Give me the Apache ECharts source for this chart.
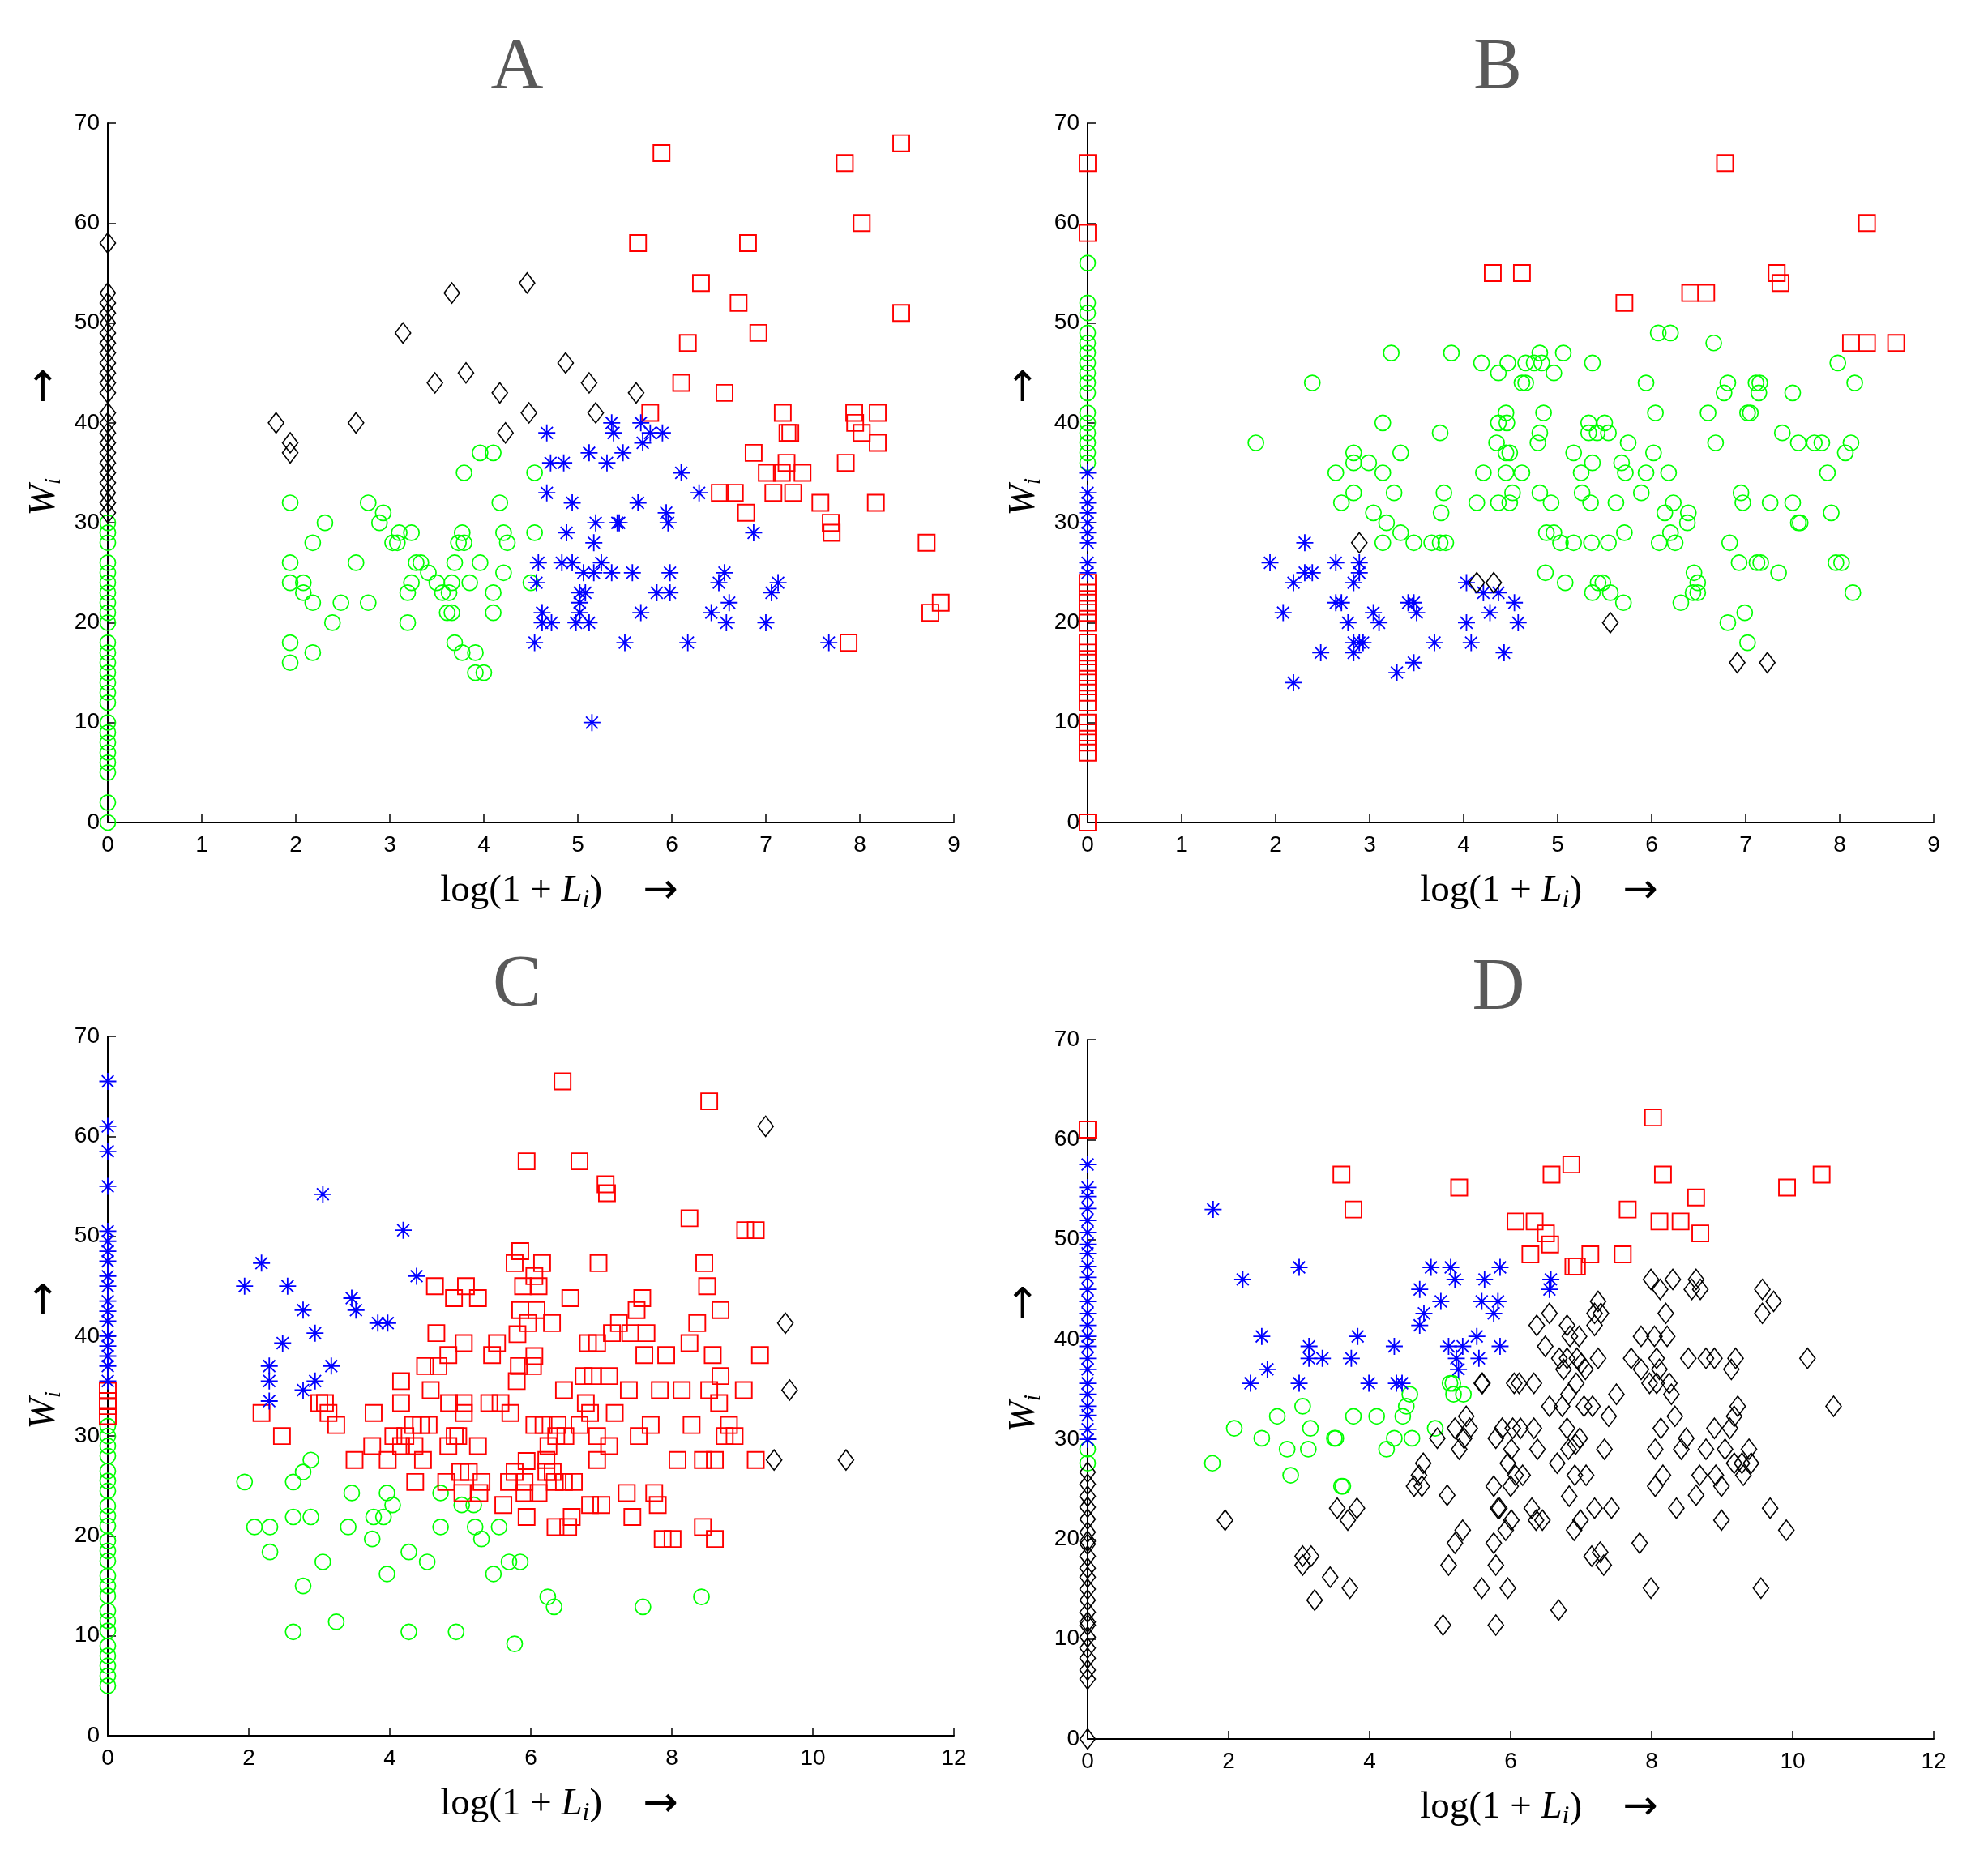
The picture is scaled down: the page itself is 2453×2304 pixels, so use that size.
<!DOCTYPE html>
<html lang="en">
<head>
<meta charset="UTF-8">
<title>W vs log(1+L) scatter</title>
<script src="https://cdn.jsdelivr.net/npm/echarts@6/dist/echarts.min.js"></script>
<style>
  html, body { margin: 0; padding: 0; background: #fff; }
  #cc { width: 2453px; height: 2304px; }
</style>
</head>
<body>
<div id="cc"></div>
<script>
// ---- panel A ----
var aBlackAxisY = [58,53,52,51,50,49,48,47,46,45,44,43,41,40,39,38,37,36,35,34,33,32,31];
var aGreenAxisY = [0,2,5,6,7,8,9,10,12,13,14,15,16,17,18,20,21,22,23,24,25,26,28,29,30];
var aBlack = [[1.79,40],[1.94,38],[1.94,37],[2.64,40],[3.14,49],[3.48,44],[3.66,53],[3.81,45],[4.17,43],[4.23,39],[4.46,54],[4.48,41],[4.87,46],[5.12,44],[5.19,41],[5.62,43]];
var aGreen = [[1.94,32],[1.94,26],[1.94,24],[1.94,18],[1.94,16],[2.08,24],[2.08,23],[2.18,28],[2.18,22],[2.18,17],[2.31,30],[2.39,20],[2.48,22],[2.64,26],[2.77,32],[2.77,22],[2.89,30],[2.93,31],[3.03,28],[3.08,28],[3.1,29],[3.23,29],[3.19,23],[3.23,24],[3.19,20],[3.28,26],[3.33,26],[3.41,25],[3.5,24],[3.56,23],[3.63,23],[3.66,24],[3.61,21],[3.66,21],[3.69,26],[3.77,29],[3.73,28],[3.79,28],[3.79,35],[3.69,18],[3.77,17],[3.85,24],[3.91,17],[3.91,15],[4.0,15],[3.96,37],[3.96,26],[4.1,37],[4.1,23],[4.1,21],[4.17,32],[4.21,29],[4.25,28],[4.21,25],[4.54,35],[4.54,29],[4.5,24]];
var aBlue = [[4.67,39],[4.71,36],[4.85,36],[4.67,33],[4.94,32],[4.88,29],[4.58,26],[4.83,26],[4.94,26],[4.56,24],[4.62,21],[4.62,20],[4.72,20],[4.54,18],[5.36,40],[5.38,39],[5.67,40],[5.77,39],[5.9,39],[5.69,38],[5.12,37],[5.48,37],[5.31,36],[5.64,32],[5.19,30],[5.42,30],[5.44,30],[5.17,28],[5.25,26],[5.06,25],[5.17,25],[5.36,25],[5.58,25],[5.98,25],[5.02,23],[5.08,23],[5.02,22],[5.02,21],[4.98,20],[5.12,20],[5.67,21],[5.84,23],[5.98,23],[5.94,31],[5.96,30],[6.1,35],[6.29,33],[5.5,18],[6.17,18],[5.15,10],[6.42,21],[6.5,24],[6.56,25],[6.58,20],[6.61,22],[6.87,29],[7.0,20],[7.06,23],[7.13,24],[7.67,18]];
var aRed = [[5.89,67],[5.64,58],[6.81,58],[6.31,54],[6.71,52],[6.92,49],[6.17,48],[6.1,44],[6.56,43],[5.77,41],[7.18,41],[7.23,39],[7.26,39],[6.87,37],[7.94,41],[7.95,40],[8.02,39],[8.19,41],[8.19,38],[7.85,36],[7.22,36],[7.01,35],[7.17,35],[7.39,35],[6.51,33],[6.67,33],[7.08,33],[7.29,33],[7.58,32],[8.17,32],[6.79,31],[7.69,30],[7.7,29],[7.84,66],[8.44,68],[8.02,60],[8.44,51],[8.71,28],[8.86,22],[8.75,21],[7.88,18]];

// ---- panel B ----
var bRedAxisY = [66,59,24,23,22,21,20,18,17,16,15,14,13,12,10,9,8,7,0];
var bGreenAxisY = [56,52,51,49,48,47,46,45,44,43,41,40,39,38,37,36];
var bBlueAxisY = [35,33,32,31,30,29,28,26,25];
var bBlue = [[1.94,26],[2.31,28],[2.31,25],[2.39,25],[2.19,24],[2.08,21],[2.19,14],[2.48,17],[2.64,26],[2.64,22],[2.7,22],[2.77,20],[2.83,24],[2.89,26],[2.89,25],[2.83,18],[2.89,18],[2.93,18],[2.83,17],[3.04,21],[3.1,20],[3.29,15],[3.41,22],[3.47,22],[3.5,21],[3.47,16],[3.69,18],[4.03,24],[4.03,20],[4.08,18],[4.21,23],[4.28,21],[4.37,23],[4.43,17],[4.54,22],[4.58,20]];
var bBlack = [[2.89,28],[4.14,24],[4.32,24],[5.56,20],[6.91,16],[7.23,16]];
var bRed = [[4.31,55],[4.62,55],[6.78,66],[8.29,60],[5.71,52],[6.41,53],[6.58,53],[7.33,55],[7.37,54],[8.12,48],[8.29,48],[8.6,48]];
var bGreen = [[1.79,38],[2.39,44],[3.23,47],[3.87,47],[3.14,40],[3.75,39],[2.83,37],[2.83,36],[2.99,36],[3.33,37],[2.64,35],[3.14,35],[2.83,33],[2.7,32],[3.26,33],[3.79,33],[3.04,31],[3.76,31],[3.18,30],[3.33,29],[3.14,28],[3.47,28],[3.66,28],[3.75,28],[3.81,28],[4.19,46],[4.37,45],[4.47,46],[4.66,46],[4.62,44],[4.66,44],[4.45,41],[4.37,40],[4.46,40],[4.35,38],[4.45,37],[4.49,37],[4.21,35],[4.45,35],[4.62,35],[4.52,33],[4.14,32],[4.37,32],[4.49,32],
  [4.75,46],[4.81,47],[4.83,46],[4.96,45],[5.06,47],[5.37,46],[4.85,41],[4.81,39],[4.79,38],[4.81,33],[4.93,32],[5.33,40],[5.5,40],[5.33,39],[5.42,39],[5.54,39],[5.17,37],[5.37,36],[5.68,36],[5.25,35],[5.72,35],[5.26,33],[5.35,32],[5.62,32],[5.75,38],[5.94,44],[6.07,49],[6.2,49],[6.04,41],[6.02,37],[5.94,35],[6.18,35],[5.89,33],[6.23,32],[6.14,31],[6.39,31],[6.38,30],[4.88,29],[4.96,29],[5.03,28],[5.17,28],[5.36,28],[5.54,28],[5.71,29],[6.08,28],[6.2,29],[6.25,28],[4.87,25],[5.08,24],[5.43,24],[5.48,24],[5.37,23],[5.56,23],[5.7,22],[6.31,22],[6.45,25],[6.49,24],[6.49,23],[6.44,23],[6.66,48],[6.81,44],[6.77,43],[7.11,44],[7.15,44],[7.14,43],[7.5,43],[6.6,41],[7.02,41],[7.05,41],[6.68,38],[7.39,39],[7.56,38],[7.73,38],[7.81,38],[7.98,46],[8.16,44],[8.12,38],[8.06,37],[7.87,35],[7.91,31],[6.95,33],[6.97,32],[7.26,32],[7.5,32],[7.56,30],[7.58,30],[6.83,28],[6.93,26],[7.12,26],[7.16,26],[7.35,25],[7.96,26],[8.02,26],[8.14,23],[6.81,20],[6.99,21],[7.02,18]];

// ---- panel C ----
var cBlueAxisY = [65.5,61,58.5,55,50.5,49.5,48.5,47.5,46,45,43.5,42.5,41.5,40,39,38,37,35.5];
var cRedAxisY = [34.5,33.5,33,32];
var cGreenAxisY = [31,30,29,28,26.5,25.5,24.5,23,22,21,19.5,18.5,17.5,16,15,14,12.5,11.5,10.5,9,8,7,6,5];
var cBlue = [[1.94,45],[2.18,47.3],[2.55,45],[2.77,42.6],[2.48,39.3],[2.94,40.3],[2.29,37],[2.29,35.5],[2.29,33.5],[2.77,34.6],[2.94,35.5],[3.17,37],[3.05,54.2],[3.46,43.8],[3.52,42.6],[3.83,41.3],[3.97,41.3],[4.19,50.6],[4.38,46]];
var cGreen = [[1.94,25.4],[2.08,20.9],[2.3,20.9],[2.3,18.4],[2.63,25.4],[2.77,26.4],[2.88,27.6],[2.63,21.9],[2.88,21.9],[2.77,15],[2.63,10.4],[3.05,17.4],[3.24,11.4],[3.46,24.3],[3.41,20.9],[3.77,21.9],[3.75,19.7],[3.91,21.9],[3.96,24.3],[4.04,23.1],[3.96,16.2],[4.27,18.4],[4.27,10.4],[4.53,17.4],[4.72,24.3],[4.72,20.9],[5.02,23.1],[5.19,23.1],[4.94,10.4],[5.21,20.9],[5.3,19.7],[5.55,20.9],[5.47,16.2],[5.69,17.4],[5.85,17.4],[5.77,9.2],[6.24,13.9],[6.33,12.9],[7.59,12.9],[8.42,13.9]];
var cBlack = [[9.33,61],[9.61,41.3],[9.67,34.6],[9.45,27.6],[10.47,27.6]];
var cRed = [[2.18,32.3],[2.47,30],[3.0,33.3],[3.08,33.3],[3.13,32.3],[3.24,31.1],[3.77,32.3],[3.5,27.6],[3.75,29],[3.97,27.6],[4.05,30],[4.16,29],[4.22,30],[4.33,31.1],[4.44,31.1],[4.55,31.1],[4.35,29],[4.47,27.6],[4.36,25.4],[4.16,35.5],[4.16,33.3],[4.58,34.6],[4.5,37],[4.69,37],[4.66,40.3],[4.64,45],[4.83,38.1],[4.91,43.8],[5.05,39.3],[5.08,45],[5.25,43.8],[4.84,33.3],[5.05,33.3],[5.05,32.3],[4.92,30],[4.83,29],[4.97,30],[5.25,29],[4.8,25.4],[5.0,26.4],[5.12,26.4],[5.03,24.3],[5.27,24.3],[5.3,25.4],[5.41,33.3],[5.57,33.3],[5.71,32.3],[5.45,38.1],[5.52,39.3],[5.61,23.1],[5.69,25.4],[5.77,26.4],[5.91,25.4],[5.91,24.3],[5.94,27.5],[6.11,24.3],[6.22,26.4],[6.22,27.6],[6.34,25.4],[5.94,21.9],[5.8,35.5],[5.83,37],[6.03,37],[6.05,38],[5.81,40.2],[5.96,41.3],[6.08,42.6],[5.85,42.6],[5.89,45],[6.11,45],[6.05,46],[5.77,47.3],[6.16,47.3],[5.85,48.5],[5.94,57.5],[6.3,41.3],[6.38,31.1],[6.18,31.1],[6.05,31.1],[6.25,29],
  [6.45,65.5],[8.53,63.5],[6.69,57.5],[7.06,55.2],[7.08,54.3],[8.25,51.8],[9.04,50.6],[9.19,50.6],[6.96,47.3],[8.46,47.3],[8.5,45],[6.56,43.8],[7.58,43.8],[7.5,42.6],[8.69,42.6],[7.25,41.3],[8.36,41.3],[7.15,40.3],[7.41,40.3],[7.64,40.3],[6.81,39.3],[6.94,39.3],[8.25,39.3],[7.61,38.1],[7.92,38.1],[8.58,38.1],[9.25,38.1],[6.75,36],[6.88,36],[7.11,36],[8.69,36],[6.47,34.6],[7.39,34.6],[7.83,34.6],[8.14,34.6],[8.53,34.6],[9.02,34.6],[6.78,33.3],[8.67,33.3],[6.84,32.3],[7.19,32.3],[6.69,31.1],[7.7,31.1],[8.28,31.1],[8.81,31.1],[6.36,30],[6.49,30],[6.94,30],[7.53,30],[8.75,30],[8.89,30],[7.11,29],[6.94,27.6],[8.08,27.6],[8.44,27.6],[8.61,27.6],[9.19,27.6],[6.31,26.4],[6.47,25.4],[6.61,25.4],[7.36,24.3],[7.75,24.3],[6.84,23.1],[7.0,23.1],[7.8,23.1],[6.58,21.9],[7.44,21.9],[6.35,20.9],[6.53,20.9],[8.44,20.9],[7.87,19.7],[8.01,19.7],[8.61,19.7]];

// ---- panel D ----
var dRedAxisY = [61];
var dBlueAxisY = [57.5,55.2,54.3,53.1,51.9,50.7,49.5,48.6,47.3,46.2,45,43.8,42.6,41.4,40.3,39.3,38.1,37,35.6,34.5,33.3,32.4,31,30];
var dGreenAxisY = [29,27.6];
var dBlackAxisY = [26.7,25.5,24.3,23.2,22,20.7,19.8,19.5,18.3,17.1,16.2,15,13.9,12.7,11.7,11.4,10.2,9.1,8.1,6.9,6,0];
var dBlue = [[1.78,53],[2.2,46],[2.47,40.3],[2.55,37],[2.31,35.6],[3.0,47.2],[3.0,35.6],[3.14,39.3],[3.14,38.1],[3.33,38.1],[3.74,38.1],[3.83,40.3],[3.99,35.6],[4.35,39.3],[4.38,35.6],[4.46,35.6],[4.71,45],[4.77,42.6],[4.71,41.4],[4.87,47.2],[5.01,43.8],[5.15,47.2],[5.21,46],[5.12,39.3],[5.32,39.3],[5.23,38.1],[5.26,37],[5.52,40.3],[5.55,38.1],[5.59,43.8],[5.63,46],[5.76,42.6],[5.82,43.8],[5.85,47.2],[5.85,39.3],[6.57,46],[6.55,45]];
var dGreen = [[1.77,27.6],[2.08,31.1],[2.47,30.1],[2.69,32.3],[2.83,29],[2.88,26.4],[3.05,33.3],[3.16,31.1],[3.13,29],[3.5,30.1],[3.52,30.1],[3.6,25.3],[3.62,25.3],[3.77,32.3],[4.1,32.3],[4.24,29],[4.35,30.1],[4.47,32.3],[4.52,33.3],[4.57,34.5],[4.6,30.1],[4.93,31.1],[5.14,35.6],[5.18,35.6],[5.19,34.5],[5.33,34.5]];
var dRed = [[3.6,56.5],[3.77,53],[5.27,55.2],[6.07,51.8],[6.34,51.8],[6.28,48.5],[8.02,62.2],[6.86,57.5],[6.58,56.5],[8.16,56.5],[10.41,56.5],[9.92,55.2],[8.63,54.2],[7.66,53],[8.11,51.8],[8.41,51.8],[6.5,50.6],[6.56,49.5],[8.69,50.6],[7.13,48.5],[7.59,48.5],[6.89,47.3],[6.94,47.3]];
var dBlack = [[1.95,21.9],[3.05,18.3],[3.17,18.3],[3.05,17.4],[3.22,13.9],[3.44,16.2],[3.54,23.1],[3.69,21.9],[3.82,23.1],[3.72,15.1],[4.63,25.3],[4.7,26.4],[4.76,27.6],[4.74,25.3],[4.96,30.1],[5.1,24.4],[5.04,11.4],[5.12,17.4],[5.21,19.6],[5.32,20.9],[5.21,31.1],[5.27,29],[5.34,30.1],[5.37,32.3],[5.42,31.1],[5.59,35.6],[5.6,35.6],[5.59,15.1],[5.76,25.3],[5.76,19.6],[5.79,17.4],[5.79,11.4],[5.82,23.1],[5.84,23.1],[5.79,30.1],[5.88,31.1],[5.96,27.6],[5.93,20.9],[5.96,15.1],
  [6.05,35.6],[6.12,35.6],[6.33,35.6],[6.03,31.1],[6.14,31.1],[6.33,31.1],[6.01,29],[6.38,29],[6.07,26.4],[6.17,26.4],[6.0,25.3],[6.3,23.1],[6.36,21.9],[6.45,21.9],[6.01,21.9],[6.37,41.4],[6.55,42.6],[6.49,39.3],[6.55,33.3],[6.66,27.6],[6.8,41.4],[6.84,40.3],[6.97,40.3],[6.69,38.1],[6.8,38.1],[6.94,38.1],[7.0,37.6],[7.06,37],[6.75,37],[6.93,35.6],[6.82,34.5],[6.73,33.3],[7.04,33.3],[7.16,33.3],[6.8,31.1],[6.98,30.1],[6.92,29.5],[6.82,29],[6.91,26.4],[7.07,26.4],[6.83,24.3],[7.19,23.1],[7.43,23.1],[6.99,21.9],[6.9,20.9],[7.15,18.3],[7.27,18.7],[7.32,17.4],[6.68,12.9],[7.24,43.8],[7.19,42.6],[7.28,42.6],[7.19,41.4],[7.24,38.1],[7.33,29],[7.39,32.3],[7.5,34.5],[7.99,46],[8.12,45],[8.3,46],[8.2,42.6],[7.85,40.3],[8.04,40.3],[8.22,40.3],[7.71,38.1],[7.85,37],[8.07,38.1],[8.11,37],[7.97,35.6],[8.07,35.6],[8.25,35.6],[8.28,34.5],[8.33,32.3],[8.13,31.1],[8.05,29],[8.42,29],[8.49,30.1],[8.16,26.4],[8.05,25.3],[8.35,23.1],[7.83,19.6],[7.99,15.1],[8.63,46],[8.57,45],[8.69,45],[8.52,38.1],[8.77,38.1],[8.89,38.1],[9.19,38.1],[9.13,37],[8.89,31.1],[9.11,31.1],[9.17,32.3],[9.22,33.3],[8.77,29],[9.04,29],[9.38,29],[9.17,27.6],[9.28,27.6],[9.41,27.6],[9.3,26.4],[8.68,26.4],[8.91,26.4],[8.99,25.3],[8.63,24.4],[8.99,21.9],[9.57,45],[9.73,43.8],[9.57,42.6],[10.21,38.1],[10.58,33.3],[9.68,23.1],[9.91,20.9],[9.55,15.1]];

var panelNames = ['A', 'B', 'C', 'D'];
var xMaxes = [9, 9, 12, 12];
var xSteps = [1, 1, 2, 2];

var chart = echarts.init(document.getElementById('cc'), null, { renderer: 'canvas' });

var grids = [
    { left: 133, top: 152, width: 1044, height: 863 },
    { left: 1342, top: 152, width: 1044, height: 863 },
    { left: 133, top: 1279, width: 1044, height: 863 },
    { left: 1342, top: 1283, width: 1044, height: 863 }
];

function onAxis(ys) {
    return ys.map(function (y) { return [0, y]; });
}

var serif = 'Liberation Serif, Times New Roman, serif';
var sans = 'Liberation Sans, Arial, sans-serif';
var arrowFont = 'DejaVu Sans, sans-serif';

var marks = {
    green: { symbol: 'circle', symbolSize: 19, color: '#00ff00', width: 1.7 },
    red: { symbol: 'rect', symbolSize: 20, color: '#ff0000', width: 1.9 },
    blue: { symbol: 'path://M0,10H20M10,0V20M3,3L17,17M17,3L3,17', symbolSize: 21, color: '#0000ff', width: 1.8 },
    black: { symbol: 'diamond', symbolSize: [19, 25], color: '#000000', width: 1.6 }
};

function scatter(idx, kind, data) {
    var m = marks[kind];
    return {
        type: 'scatter',
        xAxisIndex: idx,
        yAxisIndex: idx,
        data: data,
        symbol: m.symbol,
        symbolSize: m.symbolSize,
        silent: true,
        itemStyle: {
            color: 'rgba(0,0,0,0)',
            borderColor: m.color,
            borderWidth: m.width,
            opacity: 1
        }
    };
}

var xAxes = [], yAxes = [];
grids.forEach(function (g, i) {
    xAxes.push({
        gridIndex: i, type: 'value', min: 0, max: xMaxes[i], interval: xSteps[i],
        axisLine: { show: true, onZero: false, lineStyle: { color: '#000', width: 2 } },
        axisTick: { show: true, inside: true, length: 10, lineStyle: { color: '#000', width: 1.5 } },
        axisLabel: { color: '#000', fontFamily: sans, fontSize: 28, margin: 14 },
        splitLine: { show: false },
        name: '{n|log(1 + }{l|L}{s|i}{n|)}{a|→}',
        nameLocation: 'middle',
        nameGap: 58,
        nameTextStyle: {
            padding: [0, 0, 0, 70],
            rich: {
                n: { fontFamily: serif, fontSize: 47, color: '#000', lineHeight: 54 },
                l: { fontFamily: serif, fontStyle: 'italic', fontSize: 47, color: '#000', lineHeight: 54 },
                s: { fontFamily: serif, fontStyle: 'italic', fontSize: 32, color: '#000', lineHeight: 32, verticalAlign: 'bottom' },
                a: { fontFamily: arrowFont, fontSize: 52, color: '#000', lineHeight: 54, padding: [0, 0, 0, 50] }
            }
        }
    });
    yAxes.push({
        gridIndex: i, type: 'value', min: 0, max: 70, interval: 10,
        axisLine: { show: true, onZero: false, lineStyle: { color: '#000', width: 2 } },
        axisTick: { show: true, inside: true, length: 10, lineStyle: { color: '#000', width: 1.5 } },
        axisLabel: { color: '#000', fontFamily: sans, fontSize: 28, margin: 10 },
        splitLine: { show: false },
        name: '{w|W}{s|i}{a|→}',
        nameLocation: 'middle',
        nameRotate: 90,
        nameGap: 52,
        nameTextStyle: {
            padding: [0, 0, 0, 76],
            rich: {
                w: { fontFamily: serif, fontStyle: 'italic', fontSize: 46, color: '#000', lineHeight: 52 },
                s: { fontFamily: serif, fontStyle: 'italic', fontSize: 30, color: '#000', lineHeight: 30, verticalAlign: 'bottom' },
                a: { fontFamily: arrowFont, fontSize: 52, color: '#000', lineHeight: 52, padding: [0, 0, 0, 92] }
            }
        }
    });
});

var series = [
    scatter(0, 'green', onAxis(aGreenAxisY).concat(aGreen)),
    scatter(0, 'red', aRed),
    scatter(0, 'blue', aBlue),
    scatter(0, 'black', onAxis(aBlackAxisY).concat(aBlack)),

    scatter(1, 'green', onAxis(bGreenAxisY).concat(bGreen)),
    scatter(1, 'red', onAxis(bRedAxisY).concat(bRed)),
    scatter(1, 'blue', onAxis(bBlueAxisY).concat(bBlue)),
    scatter(1, 'black', bBlack),

    scatter(2, 'green', onAxis(cGreenAxisY).concat(cGreen)),
    scatter(2, 'red', onAxis(cRedAxisY).concat(cRed)),
    scatter(2, 'blue', onAxis(cBlueAxisY).concat(cBlue)),
    scatter(2, 'black', cBlack),

    scatter(3, 'green', onAxis(dGreenAxisY).concat(dGreen)),
    scatter(3, 'red', onAxis(dRedAxisY).concat(dRed)),
    scatter(3, 'blue', onAxis(dBlueAxisY).concat(dBlue)),
    scatter(3, 'black', onAxis(dBlackAxisY).concat(dBlack))
];

// panel letters
var titlePos = [[638, 40], [1848, 40], [638, 1172], [1849, 1176]];
var letters = panelNames.map(function (t, i) {
    return {
        type: 'text',
        x: titlePos[i][0],
        y: titlePos[i][1],
        style: {
            text: t,
            fill: '#595959',
            font: '90px ' + serif,
            textAlign: 'center',
            textVerticalAlign: 'top'
        }
    };
});

chart.setOption({
    animation: false,
    backgroundColor: '#fff',
    grid: grids,
    xAxis: xAxes,
    yAxis: yAxes,
    series: series,
    graphic: letters
});
</script>
</body>
</html>
